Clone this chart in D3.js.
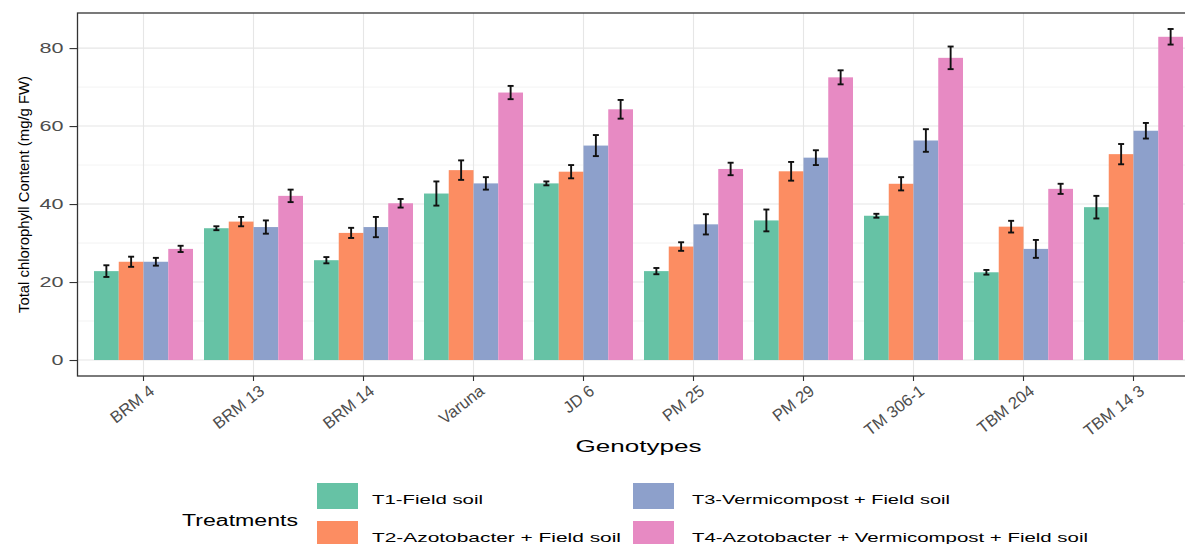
<!DOCTYPE html>
<html>
<head>
<meta charset="utf-8">
<script src="https://cdn.jsdelivr.net/npm/d3@7"></script>
<style>
  html, body { margin: 0; padding: 0; background: #ffffff; }
  svg { display: block; font-family: "Liberation Sans", Arial, sans-serif; }
</style>
</head>
<body>
<svg id="chart" width="1185" height="544"></svg>
<script>
// ---------------- data ----------------
const genotypes = ["BRM 4", "BRM 13", "BRM 14", "Varuna", "JD 6", "PM 25", "PM 29", "TM 306-1", "TBM 204", "TBM 14 3"];
const treatments = ["T1-Field soil", "T2-Azotobacter + Field soil", "T3-Vermicompost + Field soil", "T4-Azotobacter + Vermicompost + Field soil"];
const t1Values = [22.8, 33.8, 25.6, 42.7, 45.3, 22.8, 35.8, 37.0, 22.5, 39.2];
const t2Values = [25.2, 35.5, 32.6, 48.7, 48.3, 29.1, 48.4, 45.2, 34.2, 52.8];
const t3Values = [25.2, 34.1, 34.1, 45.3, 55.0, 34.8, 51.9, 56.3, 28.5, 58.8];
const t4Values = [28.5, 42.1, 40.2, 68.6, 64.3, 49.0, 72.5, 77.5, 43.9, 82.9];
const t1Errors = [1.5, 0.5, 0.8, 3.1, 0.5, 0.8, 2.8, 0.5, 0.6, 2.9];
const t2Errors = [1.3, 1.2, 1.3, 2.5, 1.7, 1.1, 2.4, 1.7, 1.5, 2.6];
const t3Errors = [1.0, 1.7, 2.6, 1.6, 2.7, 2.6, 1.9, 2.9, 2.3, 2.0];
const t4Errors = [0.8, 1.6, 1.1, 1.7, 2.4, 1.6, 1.8, 2.9, 1.3, 2.0];
const yTicks = [0, 20, 40, 60, 80];
const yMinorTicks = [10, 30, 50, 70];
const colors = ["#66c2a5", "#fc8d62", "#8da0cb", "#e78ac3"];
const xTitle = "Genotypes";
const yTitle = "Total chlorophyll Content (mg/g FW)";
const legendTitle = "Treatments";

const seriesValues = [t1Values, t2Values, t3Values, t4Values];
const seriesErrors = [t1Errors, t2Errors, t3Errors, t4Errors];

// ---------------- layout ----------------
const svg = d3.select("#chart");
const panel = { left: 77.5, right: 1199.5, top: 13, bottom: 376 };

const x = d3.scaleBand().domain(genotypes).range([panel.left, panel.right])
  .paddingInner(0.1).paddingOuter(0.15);
const xInner = d3.scaleBand().domain(treatments).range([0, x.bandwidth()]).padding(0);
const y = d3.scaleLinear().domain([-4.1, 89]).range([panel.bottom, panel.top]);

// panel background
svg.append("rect").attr("x", panel.left).attr("y", panel.top)
  .attr("width", panel.right - panel.left).attr("height", panel.bottom - panel.top)
  .attr("fill", "#ffffff");

// grid
const grid = svg.append("g");
grid.selectAll("line.minor").data(yMinorTicks).enter().append("line")
  .attr("x1", panel.left).attr("x2", panel.right)
  .attr("y1", d => y(d)).attr("y2", d => y(d))
  .attr("stroke", "#ebebeb").attr("stroke-width", 0.6);
grid.selectAll("line.major").data(yTicks).enter().append("line")
  .attr("x1", panel.left).attr("x2", panel.right)
  .attr("y1", d => y(d)).attr("y2", d => y(d))
  .attr("stroke", "#e6e6e6").attr("stroke-width", 1.1);
grid.selectAll("line.vx").data(genotypes).enter().append("line")
  .attr("x1", d => x(d) + x.bandwidth() / 2).attr("x2", d => x(d) + x.bandwidth() / 2)
  .attr("y1", panel.top).attr("y2", panel.bottom)
  .attr("stroke", "#e6e6e6").attr("stroke-width", 1.1);

// bars
const rows = [];
genotypes.forEach((g, i) => {
  treatments.forEach((t, j) => {
    rows.push({ g, t, j, v: seriesValues[j][i], e: seriesErrors[j][i] });
  });
});

svg.append("g").selectAll("rect").data(rows).enter().append("rect")
  .attr("x", d => x(d.g) + xInner(d.t))
  .attr("width", xInner.bandwidth())
  .attr("y", d => y(d.v))
  .attr("height", d => y(0) - y(d.v))
  .attr("fill", d => colors[d.j]);

// error bars
const eb = svg.append("g").attr("stroke", "#111").attr("stroke-width", 1.9).attr("fill", "none");
const capW = 3;
rows.forEach(d => {
  const cx = x(d.g) + xInner(d.t) + xInner.bandwidth() / 2;
  eb.append("line").attr("x1", cx).attr("x2", cx).attr("y1", y(d.v - d.e)).attr("y2", y(d.v + d.e));
  eb.append("line").attr("x1", cx - capW).attr("x2", cx + capW).attr("y1", y(d.v - d.e)).attr("y2", y(d.v - d.e));
  eb.append("line").attr("x1", cx - capW).attr("x2", cx + capW).attr("y1", y(d.v + d.e)).attr("y2", y(d.v + d.e));
});

// panel border
svg.append("rect").attr("x", panel.left).attr("y", panel.top)
  .attr("width", panel.right - panel.left).attr("height", panel.bottom - panel.top)
  .attr("fill", "none").attr("stroke", "#333333").attr("stroke-width", 1.3);

// y axis
const yAxis = svg.append("g").attr("transform", `translate(${panel.left},0)`)
  .call(d3.axisLeft(y).tickValues(yTicks).tickSize(8).tickPadding(6).tickFormat(d3.format("d")));
yAxis.select(".domain").remove();
yAxis.selectAll(".tick line").attr("stroke", "#333333").attr("stroke-width", 1.1);
yAxis.selectAll(".tick text")
  .attr("fill", "#4d4d4d").attr("font-size", 15)
  .attr("font-family", "Liberation Sans, Arial, sans-serif")
  .attr("textLength", d => String(d).length * 12)
  .attr("lengthAdjust", "spacingAndGlyphs");

// x axis
const xAxis = svg.append("g").attr("transform", `translate(0,${panel.bottom})`)
  .call(d3.axisBottom(x).tickSize(5).tickSizeOuter(0));
xAxis.select(".domain").remove();
xAxis.selectAll(".tick line").attr("stroke", "#333333").attr("stroke-width", 1.1);
xAxis.selectAll(".tick text")
  .attr("fill", "#4d4d4d").attr("font-size", 16.5)
  .attr("font-family", "Liberation Sans, Arial, sans-serif")
  .attr("text-anchor", "end")
  .attr("dy", null)
  .attr("y", 0).attr("x", 0)
  .attr("transform", "translate(12,17) rotate(-38)");

// axis titles
svg.append("text").attr("x", (panel.left + panel.right) / 2).attr("y", 452)
  .attr("text-anchor", "middle").attr("font-size", 17).attr("fill", "#000")
  .attr("textLength", 126).attr("lengthAdjust", "spacingAndGlyphs")
  .text(xTitle);

svg.append("text").attr("transform", "translate(29,194.5) rotate(-90)")
  .attr("text-anchor", "middle").attr("font-size", 14).attr("fill", "#000")
  .attr("textLength", 237).attr("lengthAdjust", "spacingAndGlyphs")
  .text(yTitle);

// legend
const legend = svg.append("g");
legend.append("text").attr("x", 182).attr("y", 526)
  .attr("font-size", 16).attr("fill", "#000")
  .attr("textLength", 116).attr("lengthAdjust", "spacingAndGlyphs")
  .text(legendTitle);

const legendPos = [
  { sx: 317, ty: 483, tx: 372, len: 111 },
  { sx: 317, ty: 521, tx: 372, len: 249 },
  { sx: 633, ty: 483, tx: 692, len: 258 },
  { sx: 633, ty: 521, tx: 692, len: 396 }
];
treatments.forEach((t, j) => {
  const p = legendPos[j];
  legend.append("rect").attr("x", p.sx).attr("y", p.ty).attr("width", 41).attr("height", 26)
    .attr("fill", colors[j]);
  legend.append("text").attr("x", p.tx).attr("y", p.ty + 21)
    .attr("font-size", 13).attr("fill", "#000")
    .attr("textLength", p.len).attr("lengthAdjust", "spacingAndGlyphs")
    .text(t);
});
</script>
</body>
</html>
